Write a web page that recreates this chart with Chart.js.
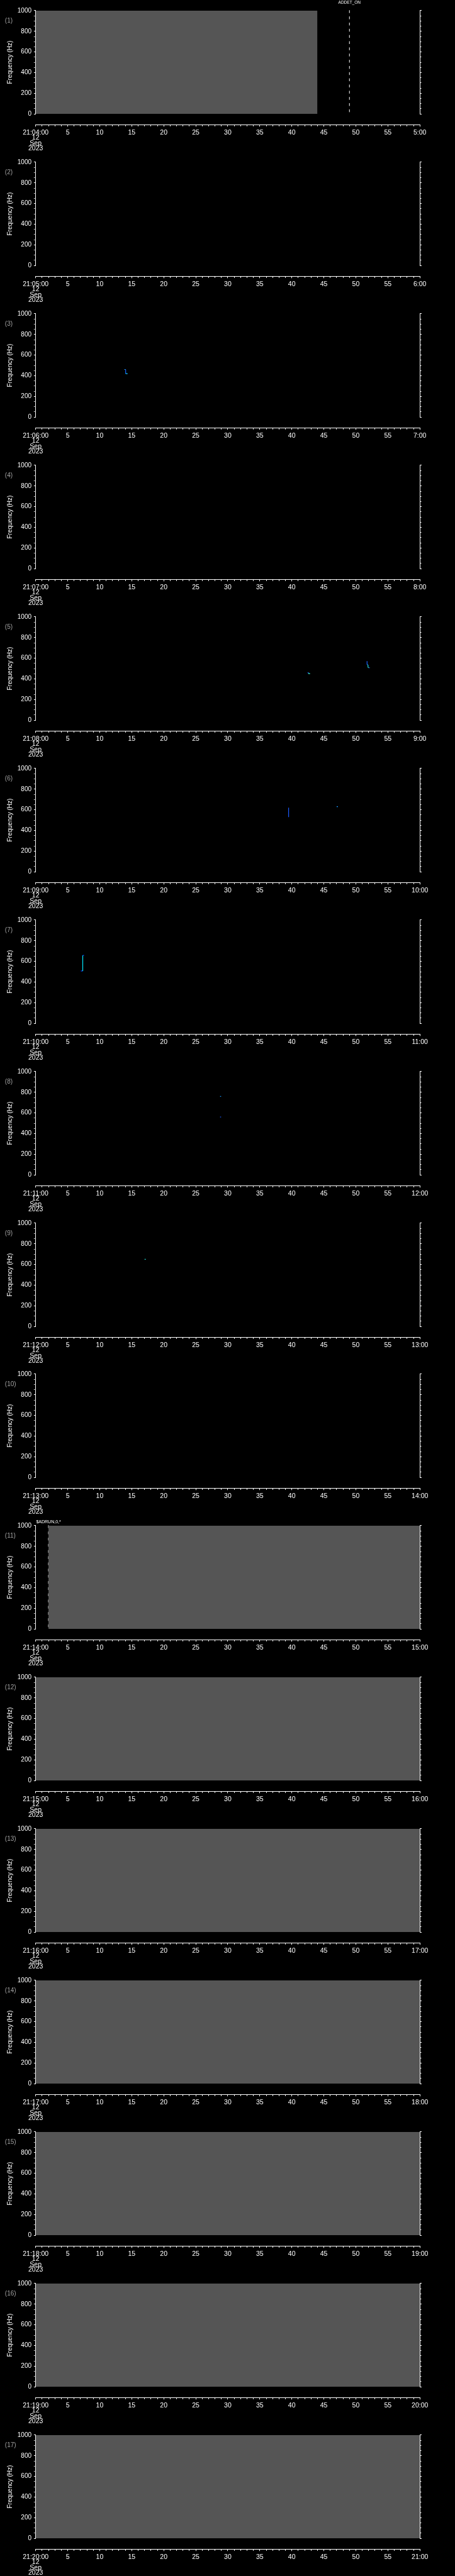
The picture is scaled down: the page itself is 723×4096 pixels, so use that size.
<!DOCTYPE html>
<html>
<head>
<meta charset="utf-8">
<title>Frequency panels</title>
<script src="https://cdn.jsdelivr.net/npm/chart.js@4.4.0/dist/chart.umd.min.js"></script>
<style>
    html, body { margin: 0; padding: 0; background: #000; }
    #board { position: relative; width: 723px; height: 4096px; overflow: hidden; background: #000; }
    .panel { position: absolute; left: 0; width: 723px; }
    .panel canvas { display: block; }
</style>
</head>
<body>
<div id="board"></div>
<script>
// ---- chart data ----
const startHour = 21;
const startMinute = [4, 5, 6, 7, 8, 9, 10, 11, 12, 13, 14, 15, 16, 17, 18, 19, 20];
const dateLines = ['12', 'Sep', '2023'];

const freqTicks = [0, 50, 100, 150, 200, 250, 300, 350, 400, 450, 500, 550, 600, 650, 700, 750, 800, 850, 900, 950, 1000];
const freqLabelStep = 200;
const secondTicks = Array.from({ length: 61 }, (_, k) => k);
const secondLabelStep = 5;

// grey blocks (seconds), null = none in that panel
const grayFrom = [0, null, null, null, null, null, null, null, null, null, 2, 0, 0, 0, 0, 0, 0];
const grayTo = [44, null, null, null, null, null, null, null, null, null, 60, 60, 60, 60, 60, 60, 60];

// event markers
const eventPanel = [0, 10];
const eventSec = [49, 2];
const eventText = ['ADDET_ON', '$ADRUN,0,*'];

// small spectral traces: panel, seconds, Hz
const tracePanel = [2, 4, 4, 5, 5, 6, 7, 7, 8];
const traceSec = [
    [13.85, 14.05, 14.05, 14.35],
    [42.45, 42.65, 42.65, 42.85],
    [51.75, 51.75, 51.9, 51.9, 52.0, 52.2],
    [39.5, 39.5],
    [47.0, 47.2],
    [7.05, 7.35, 7.35, 7.55],
    [28.8, 28.95],
    [28.8, 28.95],
    [17.0, 17.2]
];
const traceHz = [
    [461, 461, 420, 420],
    [458, 458, 451, 451],
    [572, 538, 536, 511, 508, 508],
    [530, 620],
    [630, 630],
    [507, 507, 658, 658],
    [760, 760],
    [560, 560],
    [650, 650]
];
// colour of each segment of the traces
const traceColours = [
    ['#2aa0ff', '#1464ff', '#12c8ff'],
    ['#1c5cff', '#38f0c0', '#38f0c0'],
    ['#1c5cff', '#1496ff', '#20e0e0', '#50ffa0', '#1c5cff'],
    ['#1c5cff'],
    ['#1496ff'],
    ['#0a40ff', '#00e8ff', '#0a40ff'],
    ['#1496ff'],
    ['#1c5cff'],
    ['#20c8c0']
];

// ---- layout (px, already at 0.705) ----
const W = 723;
const PANELS = startMinute.length;
const FONT = '"Liberation Sans", Arial, sans-serif';
const PLOT_TOP = 16.95;
const PLOT_BOTTOM = 181.2;
const AXIS_GAP = 17.1;
const LEFT_W = 56.7;
const RIGHT_W = W - 667.2;

document.addEventListener('DOMContentLoaded', function() {
    const board = document.getElementById('board');
    for (let i = 0; i < PANELS; i++) {
        buildPanel(board, i);
    }
});

function pad2(n) {
    return n < 10 ? '0' + n : String(n);
}

function secondLabel(panel, v) {
    if (v === 0) {
        return [startHour + ':' + pad2(startMinute[panel]) + ':00'].concat(dateLines);
    }
    if (v === 60) {
        return (startMinute[panel] + 1) + ':00';
    }
    return v % secondLabelStep === 0 ? String(v) : '';
}

// text bits: panel number and event labels
const panelNotes = {
    id: 'panelNotes',
    afterDraw(chart, args, opts) {
        const ctx = chart.ctx;
        const x = chart.scales.x;
        ctx.save();
        ctx.textBaseline = 'middle';
        ctx.fillStyle = '#a0a0a0';
        ctx.font = '10px ' + FONT;
        ctx.textAlign = 'left';
        ctx.fillText('(' + (opts.index + 1) + ')', 7.8, 33.6);

        ctx.fillStyle = '#fff';
        ctx.textAlign = 'center';
        eventPanel.forEach(function(p, k) {
            if (p !== opts.index) return;
            const y = k === 0 ? 4.3 : 11.0;
            ctx.font = (k === 0 ? '6.5px ' : '7px ') + FONT;
            ctx.fillText(eventText[k], x.getPixelForValue(eventSec[k]), y);
        });
        ctx.restore();
    }
};

function buildDatasets(i) {
    const sets = [];

    // grey block
    if (grayFrom[i] !== null) {
        sets.push({
            data: [{ x: grayFrom[i], y: 1000 }, { x: grayTo[i], y: 1000 }],
            xAxisID: 'x', yAxisID: 'y',
            fill: 'origin',
            backgroundColor: '#555555',
            borderColor: '#555555',
            borderWidth: 0,
            pointRadius: 0
        });
    }

    // dashed event lines
    eventPanel.forEach(function(p, k) {
        if (p !== i) return;
        sets.push({
            data: [{ x: eventSec[k], y: 1004 }, { x: eventSec[k], y: 15 }],
            xAxisID: 'x', yAxisID: 'y',
            borderColor: '#ffffff',
            borderWidth: 1,
            borderDash: [4.45, 5.4],
            pointRadius: 0,
            clip: false
        });
    });

    // traces
    tracePanel.forEach(function(p, k) {
        if (p !== i) return;
        const cols = traceColours[k];
        sets.push({
            data: traceSec[k].map((s, j) => ({ x: s, y: traceHz[k][j] })),
            xAxisID: 'x', yAxisID: 'y',
            borderColor: cols[0],
            borderWidth: 1.2,
            pointRadius: 0,
            segment: {
                borderColor: ctx => cols[ctx.p0DataIndex] || cols[0]
            }
        });
    });

    return sets;
}

function buildPanel(board, i) {
    const top = Math.round(i * 4096 / PANELS);
    const h = Math.round((i + 1) * 4096 / PANELS) - top;

    const div = document.createElement('div');
    div.className = 'panel';
    div.style.top = top + 'px';
    div.style.height = h + 'px';
    const canvas = document.createElement('canvas');
    canvas.width = W;
    canvas.height = h;
    div.appendChild(canvas);
    board.appendChild(div);

    const xHeight = h - PLOT_BOTTOM - AXIS_GAP;

    new Chart(canvas, {
        type: 'line',
        data: { datasets: buildDatasets(i) },
        options: {
            responsive: false,
            devicePixelRatio: 1,
            animation: false,
            events: [],
            layout: { padding: { top: PLOT_TOP, left: 0, right: 0, bottom: 0 } },
            plugins: {
                legend: { display: false },
                tooltip: { enabled: false },
                panelNotes: { index: i }
            },
            scales: {
                x: {
                    type: 'linear',
                    position: 'bottom',
                    weight: 1,
                    min: 0,
                    max: 60,
                    afterBuildTicks: scale => { scale.ticks = secondTicks.map(v => ({ value: v })); },
                    ticks: {
                        autoSkip: false,
                        maxRotation: 0,
                        minRotation: 0,
                        color: '#ffffff',
                        padding: 5.5,
                        font: { family: FONT, size: 10.5, lineHeight: 0.8 },
                        callback: v => secondLabel(i, v)
                    },
                    grid: {
                        drawOnChartArea: false,
                        tickLength: 3,
                        tickColor: '#ffffff',
                        tickWidth: 1,
                        tickBorderDash: ctx => (ctx.tick && ctx.tick.value % secondLabelStep) ? [1.9, 20] : []
                    },
                    border: { display: true, color: '#ffffff', width: 1 },
                    afterFit: scale => { scale.height = xHeight; }
                },
                gap: {
                    type: 'linear',
                    axis: 'x',
                    position: 'bottom',
                    weight: 0,
                    ticks: { display: false },
                    grid: { display: false, drawTicks: false },
                    border: { display: false },
                    afterFit: scale => { scale.height = AXIS_GAP; }
                },
                y: {
                    type: 'linear',
                    position: 'left',
                    min: 0,
                    max: 1000,
                    afterBuildTicks: scale => { scale.ticks = freqTicks.map(v => ({ value: v })); },
                    ticks: {
                        autoSkip: false,
                        color: '#ffffff',
                        padding: 3.9,
                        font: { family: FONT, size: 10 },
                        callback: v => (v % freqLabelStep === 0 ? String(v) : '')
                    },
                    grid: {
                        drawOnChartArea: false,
                        tickLength: 2.8,
                        tickColor: '#ffffff',
                        tickWidth: 1,
                        tickBorderDash: ctx => (ctx.tick && ctx.tick.value % freqLabelStep) ? [1.5, 20] : []
                    },
                    border: { display: true, color: '#ffffff', width: 1 },
                    title: {
                        display: true,
                        text: 'Frequency (Hz)',
                        color: '#ffffff',
                        font: { family: FONT, size: 10 },
                        padding: { top: 10.2, bottom: 0 }
                    },
                    afterFit: scale => { scale.width = LEFT_W; }
                },
                y2: {
                    type: 'linear',
                    axis: 'y',
                    position: 'right',
                    min: 0,
                    max: 1000,
                    afterBuildTicks: scale => { scale.ticks = freqTicks.map(v => ({ value: v })); },
                    ticks: { display: false },
                    grid: {
                        drawOnChartArea: false,
                        tickLength: 2.8,
                        tickColor: '#ffffff',
                        tickWidth: 1,
                        tickBorderDash: ctx => (ctx.tick && ctx.tick.value % freqLabelStep) ? [1.5, 20] : []
                    },
                    border: { display: true, color: '#ffffff', width: 1 },
                    afterFit: scale => { scale.width = RIGHT_W; }
                }
            }
        },
        plugins: [panelNotes]
    });
}
</script>
</body>
</html>
